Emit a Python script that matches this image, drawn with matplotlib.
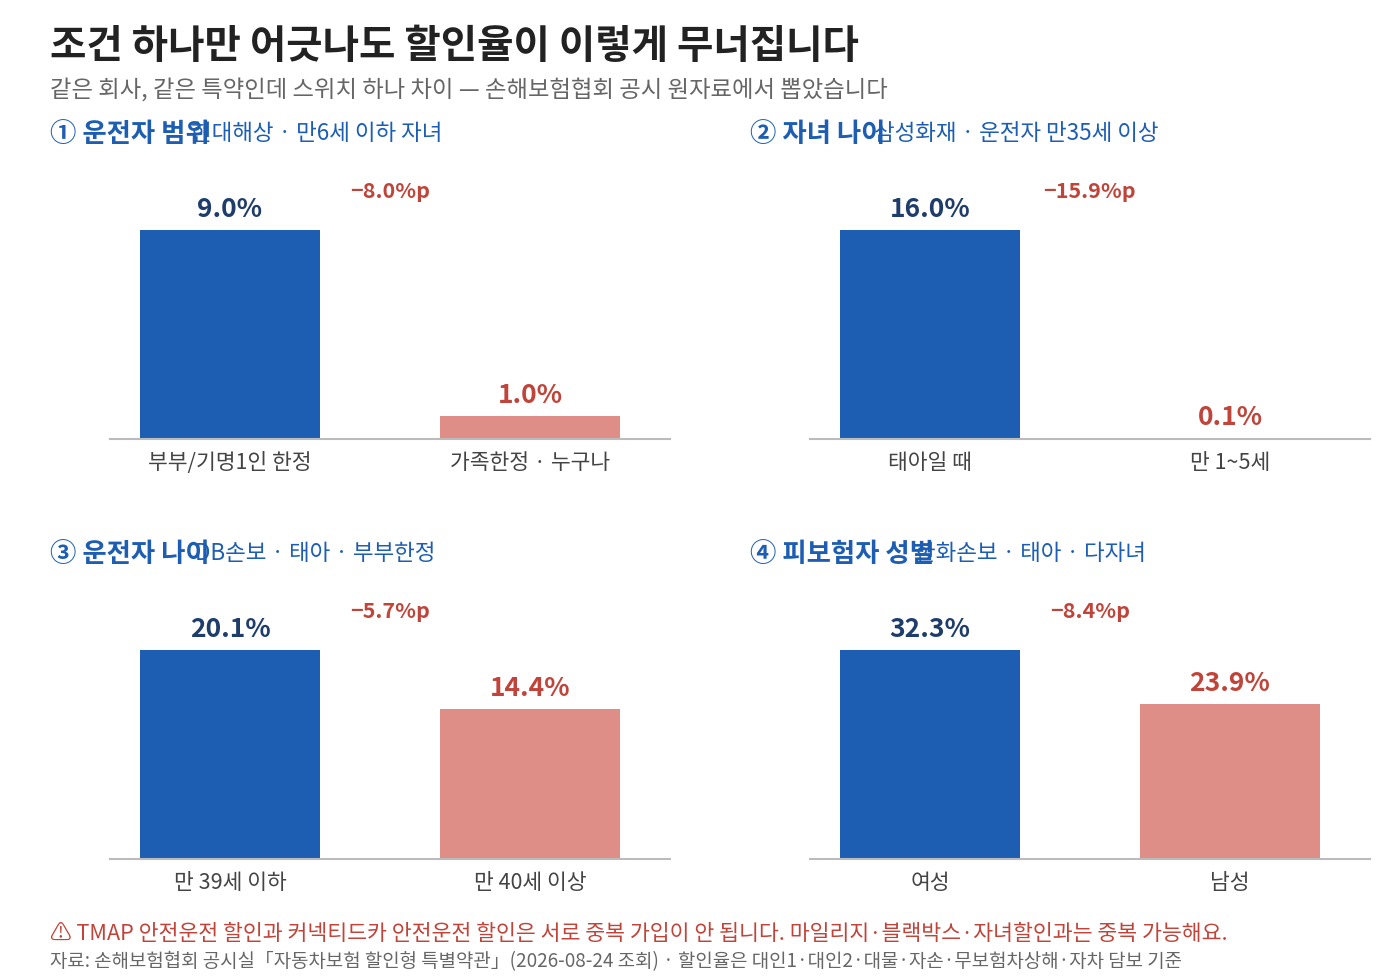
import matplotlib
matplotlib.use("Agg")
import matplotlib.pyplot as plt

plt.rcParams['font.family'] = ['Noto Sans CJK KR', 'DejaVu Sans']

# data
panel_titles = ["① 운전자 범위", "② 자녀 나이", "③ 운전자 나이", "④ 피보험자 성별"]
panel_subtitles = ["현대해상 · 만6세 이하 자녀", "삼성화재 · 운전자 만35세 이상",
                   "DB손보 · 태아 · 부부한정", "한화손보 · 태아 · 다자녀"]
categories = [["부부/기명1인 한정", "가족한정 · 누구나"],
              ["태아일 때", "만 1~5세"],
              ["만 39세 이하", "만 40세 이상"],
              ["여성", "남성"]]
rates = [[9.0, 1.0], [16.0, 0.1], [20.1, 14.4], [32.3, 23.9]]
deltas = ["−8.0%p", "−15.9%p", "−5.7%p", "−8.4%p"]

BLUE = "#1d5eb3"
PINK = "#de8e87"
NAVY = "#1f3d6b"
RED = "#c0443a"

W, H = 1400, 980
fig = plt.figure(figsize=(14, 9.8), dpi=100)

def fx(px):
    return px / W

def fy(py):
    return 1 - py / H

# panel layout (pixels): left edge, baseline
lefts = [110, 810, 110, 810]
bases = [439, 439, 859, 859]
title_y = [134, 134, 554, 554]
title_x = [50, 750, 50, 750]
sub_x = [191, 874, 195, 915]
ax_h = 282

for i in range(4):
    ax = fig.add_axes([fx(lefts[i]), fy(bases[i]), fx(560), ax_h / H])
    vals = rates[i]
    top = max(vals)
    ax.bar([0, 1], vals, width=0.6, color=[BLUE, PINK])
    ax.set_xlim(-0.4, 1.4667)
    ax.set_ylim(0, top * 1.35)
    for s in ["top", "right", "left"]:
        ax.spines[s].set_visible(False)
    ax.spines["bottom"].set_color("#bbbbbb")
    ax.spines["bottom"].set_linewidth(1.5)
    ax.set_yticks([])
    ax.set_xticks([0, 1])
    ax.set_xticklabels(categories[i], fontsize=15.5, color="#444444")
    ax.tick_params(axis="x", length=0, pad=9.5)
    for j, v in enumerate(vals):
        ax.annotate(f"{v:.1f}%", (j, v), xytext=(0, 5), textcoords="offset points",
                    ha="center", va="bottom", fontsize=19, fontweight="bold",
                    color=NAVY if j == 0 else RED)
    ax.text(0.533, top * 1.185, deltas[i], ha="center", va="center",
            fontsize=15.5, fontweight="bold", color=RED)

    fig.text(fx(title_x[i]), fy(title_y[i]), panel_titles[i], fontsize=19,
             fontweight="bold", color=BLUE, va="center", ha="left")
    fig.text(fx(sub_x[i]), fy(title_y[i]), panel_subtitles[i], fontsize=16.2,
             color=BLUE, va="center", ha="left")

fig.text(fx(50), fy(46), "조건 하나만 어긋나도 할인율이 이렇게 무너집니다",
         fontsize=28.5, fontweight="bold", color="#222222", va="center")
fig.text(fx(50), fy(90), "같은 회사, 같은 특약인데 스위치 하나 차이 — 손해보험협회 공시 원자료에서 뽑았습니다",
         fontsize=16.8, color="#666666", va="center")
fig.text(fx(50), fy(934), "⚠ TMAP 안전운전 할인과 커넥티드카 안전운전 할인은 서로 중복 가입이 안 됩니다. 마일리지·블랙박스·자녀할인과는 중복 가능해요.",
         fontsize=15.6, color=RED, va="center")
fig.text(fx(50), fy(962), "자료: 손해보험협회 공시실「자동차보험 할인형 특별약관」(2026-08-24 조회) · 할인율은 대인1·대인2·대물·자손·무보험차상해·자차 담보 기준",
         fontsize=13.6, color="#666666", va="center")

fig.savefig("out.png", dpi=100)
